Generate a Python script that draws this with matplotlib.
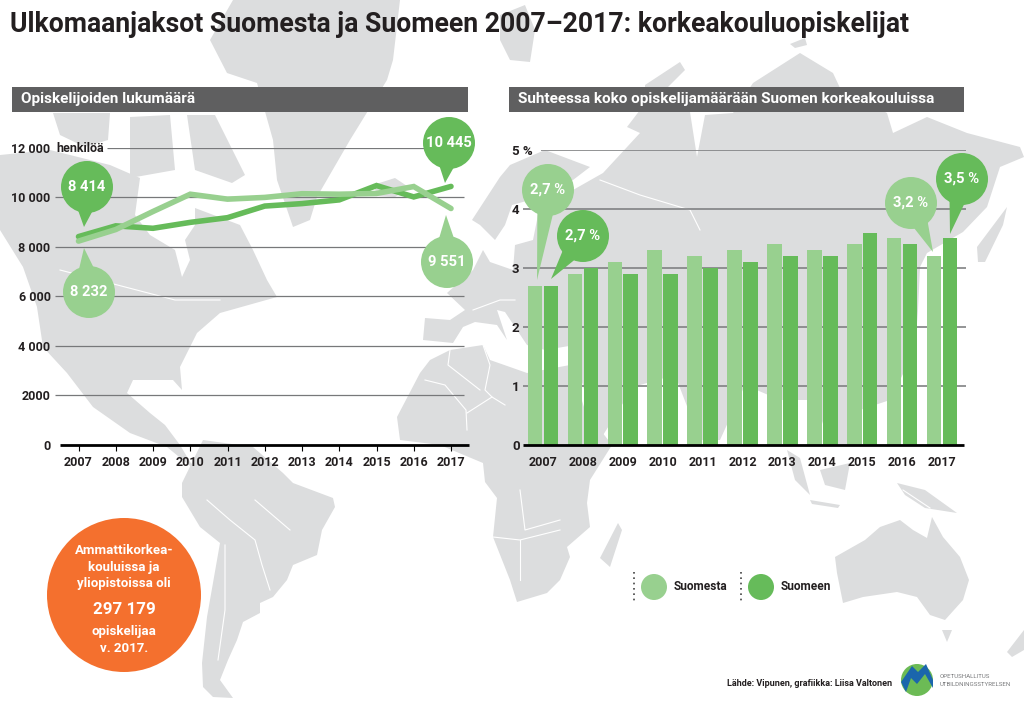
import matplotlib
matplotlib.use('Agg')
import matplotlib.pyplot as plt
import numpy as np
from matplotlib.patches import Polygon, Circle, Rectangle

plt.rcParams['font.family'] = ['Roboto', 'DejaVu Sans']
plt.rcParams['font.weight'] = 'bold'

# data
years = [2007, 2008, 2009, 2010, 2011, 2012, 2013, 2014, 2015, 2016, 2017]
count_from = [8232, 8700, 9430, 10130, 9930, 10000, 10150, 10130, 10160, 10440, 9551]
count_to = [8414, 8850, 8750, 8990, 9180, 9650, 9750, 9900, 10480, 10020, 10445]
count_ticks = [0, 2000, 4000, 6000, 8000, 10000, 12000]
count_tick_labels = ['0', '2000', '4 000', '6 000', '8 000', '10 000', '12 000']
pct_from = [2.7, 2.9, 3.1, 3.3, 3.2, 3.3, 3.4, 3.3, 3.4, 3.5, 3.2]
pct_to = [2.7, 3.0, 2.9, 2.9, 3.0, 3.1, 3.2, 3.2, 3.6, 3.4, 3.5]
pct_ticks = [0, 1, 2, 3, 4, 5]
pct_tick_labels = ['0', '1', '2', '3', '4', '5 %']

LIGHT = '#98d08f'
DARK = '#66bb5a'
LAND = '#dcddde'
INK = '#231f20'
GRID = '#77787a'
ORANGE = '#f4702e'
W, H = 1024, 708

fig = plt.figure(figsize=(W / 100, H / 100), dpi=100, facecolor='white')


def ax_px(x0, y0, x1, y1, **kw):
    return fig.add_axes([x0 / W, 1 - y1 / H, (x1 - x0) / W, (y1 - y0) / H], **kw)


# background map, in picture pixels
bg = ax_px(0, 0, W, H, zorder=0)
bg.set_xlim(0, W)
bg.set_ylim(H, 0)
bg.axis('off')

land = [
    # north america
    [(0, 155), (50, 150), (110, 165), (140, 178), (135, 215), (150, 235), (175, 250), (182, 277),
     (190, 260), (185, 240), (195, 225), (195, 208), (240, 225), (253, 250), (267, 280), (277, 297),
     (220, 313), (197, 333), (180, 367), (182, 390), (173, 380), (133, 380), (127, 393), (150, 413),
     (165, 425), (180, 445), (195, 470), (167, 447), (130, 433), (93, 407), (67, 373), (43, 347),
     (37, 307), (23, 267), (0, 230)],
    # arctic islands
    [(53, 113), (110, 113), (108, 140), (85, 147), (60, 135)],
    [(130, 117), (170, 115), (175, 170), (130, 178)],
    [(187, 115), (215, 115), (245, 175), (232, 183), (195, 170)],
    # greenland, iceland, svalbard
    [(233, 0), (400, 0), (393, 60), (387, 80), (350, 140), (317, 197), (310, 220), (293, 227),
     (277, 180), (273, 140), (257, 83), (227, 73), (210, 40)],
    [(373, 185), (395, 178), (410, 188), (395, 197), (378, 196)],
    [(500, 15), (525, 5), (535, 30), (530, 62), (510, 60), (500, 40)],
    # south america
    [(182, 483), (203, 440), (253, 447), (283, 473), (293, 483), (333, 498), (335, 507), (322, 530),
     (317, 555), (293, 565), (287, 580), (273, 597), (260, 603), (260, 613), (243, 622), (237, 640),
     (228, 660), (220, 680), (233, 698), (213, 697), (203, 687), (202, 663), (207, 617), (220, 543),
     (200, 527), (182, 497)],
    # africa
    [(397, 417), (420, 373), (430, 360), (450, 350), (483, 345), (490, 360), (510, 367), (527, 373),
     (570, 365), (585, 410), (612, 445), (590, 480), (587, 503), (590, 527), (567, 547), (570, 557),
     (560, 580), (547, 593), (517, 602), (510, 580), (493, 537), (497, 498), (485, 482), (483, 463),
     (440, 445), (400, 440)],
    # scandinavia
    [(472, 220), (500, 177), (510, 165), (545, 150), (590, 167), (573, 180), (560, 190), (530, 200),
     (512, 205), (505, 225), (495, 240), (480, 225)],
    # europe and asia
    [(473, 270), (483, 250), (490, 262), (513, 270), (515, 245), (533, 240), (540, 205), (573, 190),
     (603, 173), (640, 133), (627, 127), (640, 110), (690, 112), (697, 157), (705, 115), (733, 113),
     (753, 83), (800, 53), (833, 73), (840, 88), (887, 113), (893, 133), (927, 117), (967, 133),
     (1020, 147), (1024, 157), (1000, 167), (987, 207), (963, 232), (927, 253), (920, 267),
     (918, 310), (915, 350), (890, 400), (860, 410), (850, 445), (830, 445), (815, 400),
     (780, 400), (745, 385), (720, 440), (700, 440), (675, 375), (640, 385), (625, 400), (600, 440),
     (575, 360), (575, 345), (545, 350), (527, 345), (505, 312), (497, 310), (507, 340), (497, 325),
     (475, 322), (463, 327), (453, 343), (423, 340), (425, 318), (450, 320), (465, 310), (447, 293)],
    # novaya zemlya and other islands
    [(645, 85), (680, 62), (685, 70), (655, 100), (645, 105)],
    [(790, 44), (805, 38), (807, 45), (795, 48)],
    [(977, 247), (1007, 207), (1003, 225), (985, 262), (978, 262)],
    [(787, 450), (800, 458), (810, 495), (795, 480)],
    [(820, 470), (850, 463), (845, 490), (825, 485)],
    [(810, 500), (840, 505), (838, 508), (812, 504)],
    [(897, 483), (925, 490), (957, 513), (925, 508), (905, 495)],
    # australia, tasmania, new zealand, madagascar
    [(835, 557), (865, 540), (880, 527), (900, 520), (913, 530), (927, 538), (932, 517), (943, 537),
     (960, 557), (969, 580), (963, 600), (945, 620), (930, 615), (917, 597), (897, 592), (863, 597),
     (843, 603), (837, 573)],
    [(942, 630), (952, 630), (947, 642)],
    [(1007, 652), (1024, 630), (1024, 650), (1012, 657)],
    [(600, 558), (618, 523), (622, 530), (610, 567)],
]
for pts in land:
    bg.add_patch(Polygon(pts, closed=True, fc=LAND, ec='none'))

# a few borders
borders = [
    [(207, 500), (230, 520), (255, 540), (262, 565), (270, 590)],
    [(225, 545), (225, 610), (218, 660)],
    [(255, 500), (290, 530)],
    [(493, 537), (520, 540), (560, 530)],
    [(520, 540), (520, 580)],
    [(520, 490), (525, 530), (560, 520)],
    [(60, 270), (175, 300), (220, 300)],
    [(903, 490), (930, 508)],
    [(425, 380), (445, 385), (466, 410), (467, 430)],
    [(467, 413), (492, 397), (505, 405)],
    [(450, 350), (448, 365), (480, 390)],
    [(483, 345), (490, 365), (485, 390), (492, 397)],
    [(473, 310), (500, 300), (515, 300)],
    [(600, 180), (640, 195), (690, 210), (700, 230)],
]
for b in borders:
    bx, by = zip(*b)
    bg.plot(bx, by, color='white', lw=0.8)

# left chart, line
ax1 = ax_px(52, 148, 469, 444.5, zorder=2, facecolor='none')
pitch1 = (451 - 78.5) / 10
ax1.set_xlim(2007 - (78.5 - 52) / pitch1, 2017 + (469 - 451) / pitch1)
ax1.set_ylim(0, 12000)
for s in ax1.spines.values():
    s.set_visible(False)


def x1_data(px):
    return 2007 + (px - 78.5) / pitch1


for t in count_ticks[1:]:
    start = 107 if t == 12000 else 55
    ax1.hlines(t, x1_data(start), x1_data(464), color=GRID, lw=0.9, zorder=1)
ax1.hlines(0, x1_data(60), x1_data(469), color='black', lw=2, zorder=3, clip_on=False)
ax1.plot(years, count_to, color=DARK, lw=4, solid_joinstyle='miter', solid_capstyle='round', zorder=4)
ax1.plot(years, count_from, color=LIGHT, lw=4, solid_joinstyle='miter', solid_capstyle='round', zorder=5)
ax1.set_xticks(years)
ax1.set_xticklabels(years, fontsize=9, color=INK)
ax1.set_yticks(count_ticks)
ax1.set_yticklabels(count_tick_labels, fontsize=9, color=INK)
ax1.tick_params(axis='x', length=4.5, width=0.8, color='black', pad=4)
ax1.tick_params(axis='y', length=0, pad=1)

# right chart, bars
ax2 = ax_px(523, 150, 966, 445, zorder=2, facecolor='none')
idx = np.arange(len(years))
ax2.set_xlim(-0.5, 10.6)
ax2.set_ylim(0, 5)
for s in ax2.spines.values():
    s.set_visible(False)
for t in pct_ticks[1:]:
    ax2.hlines(t, -0.5 if t < 5 else -0.05, 10.6, color='#808183', lw=1.2, zorder=1)
ax2.bar(idx - 0.2, pct_from, width=0.365, color=LIGHT, zorder=3)
ax2.bar(idx + 0.2, pct_to, width=0.365, color=DARK, zorder=3)
ax2.hlines(0, -0.5, 10.55, color='black', lw=2, zorder=4, clip_on=False)
ax2.set_xticks(idx)
ax2.set_xticklabels(years, fontsize=9, color=INK)
ax2.set_yticks(pct_ticks)
ax2.set_yticklabels(pct_tick_labels, fontsize=9.5, color=INK, ha='left')
ax2.tick_params(axis='x', length=0, pad=8)
ax2.tick_params(axis='y', length=0, pad=8)

# overlay, in picture pixels
top = ax_px(0, 0, W, H, zorder=5, facecolor='none')
top.set_xlim(0, W)
top.set_ylim(H, 0)
top.axis('off')

top.text(10, 24, 'Ulkomaanjaksot Suomesta ja Suomeen 2007–2017: korkeakouluopiskelijat',
         fontsize=19.2, color=INK, va='center', ha='left')

top.add_patch(Rectangle((12, 87), 456, 25, fc='#5f5f60', ec='none'))
top.add_patch(Rectangle((509, 87), 455, 25, fc='#5f5f60', ec='none'))
top.text(21, 99.5, 'Opiskelijoiden lukumäärä', fontsize=11, color='white', va='center')
top.text(518, 99.5, 'Suhteessa koko opiskelijamäärään Suomen korkeakouluissa', fontsize=11, color='white', va='center')
top.text(56, 148, 'henkilöä', fontsize=9, color=INK, va='center')


def bubble(cx, cy, r, tip, color, label):
    tx, ty = tip
    d = np.array([tx - cx, ty - cy], dtype=float)
    d = d / np.hypot(*d)
    n = np.array([-d[1], d[0]])
    base = np.array([cx, cy]) + d * (r - 4)
    top.add_patch(Polygon([base + n * 8, base - n * 8, (tx, ty)], closed=True, fc=color, ec='none'))
    top.add_patch(Circle((cx, cy), r, fc=color, ec='none'))
    top.text(cx, cy, label, fontsize=10.6, color='white', ha='center', va='center')


bubble(87, 187, 26, (84, 227), DARK, '8 414')
bubble(89, 292, 26, (84, 248), LIGHT, '8 232')
bubble(449, 143, 26, (445, 183), DARK, '10 445')
bubble(447, 262, 26, (446, 215), LIGHT, '9 551')
bubble(548, 190, 26, (537, 280), LIGHT, '2,7 %')
bubble(583, 236, 26, (551, 279), DARK, '2,7 %')
bubble(911, 203, 26, (933, 252), LIGHT, '3,2 %')
bubble(962, 179, 26, (950, 234), DARK, '3,5 %')

# orange circle
top.add_patch(Circle((124, 595), 77, fc=ORANGE, ec='none'))
top.text(124, 551, 'Ammattikorkea-', fontsize=9.5, color='white', ha='center', va='center')
top.text(124, 567, 'kouluissa ja', fontsize=9.5, color='white', ha='center', va='center')
top.text(124, 583, 'yliopistoissa oli', fontsize=9.5, color='white', ha='center', va='center')
top.text(124, 609, '297 179', fontsize=12.2, color='white', ha='center', va='center')
top.text(124, 632, 'opiskelijaa', fontsize=9.5, color='white', ha='center', va='center')
top.text(124, 648, 'v. 2017.', fontsize=9.5, color='white', ha='center', va='center')

# legend
for x0, col, name in [(634, LIGHT, 'Suomesta'), (741, DARK, 'Suomeen')]:
    top.plot([x0, x0], [572, 603], color='#444444', lw=1.2, ls=(0, (1, 2.2)))
    top.add_patch(Circle((x0 + 20, 587), 13, fc=col, ec='none'))
    top.text(x0 + 40, 587, name, fontsize=8.6, color=INK, va='center')

# source and logo
top.text(892, 684, 'Lähde: Vipunen, grafiikka: Liisa Valtonen', fontsize=6.5, color=INK, ha='right', va='center')
top.add_patch(Circle((917, 680), 16, fc='#6cbb55', ec='none'))
top.add_patch(Polygon([(901, 682), (912, 666), (918, 672), (926, 664), (933, 680), (933, 688), (925, 674),
                       (917, 684), (911, 678), (906, 692)], closed=True, fc='#1b66ac', ec='none'))
top.text(940, 676, 'OPETUSHALLITUS', fontsize=4.4, color='#77787a', va='center', fontweight='normal')
top.text(940, 684, 'UTBILDNINGSSTYRELSEN', fontsize=4.4, color='#77787a', va='center', fontweight='normal')

plt.savefig('out.png', dpi=100, facecolor='white')
